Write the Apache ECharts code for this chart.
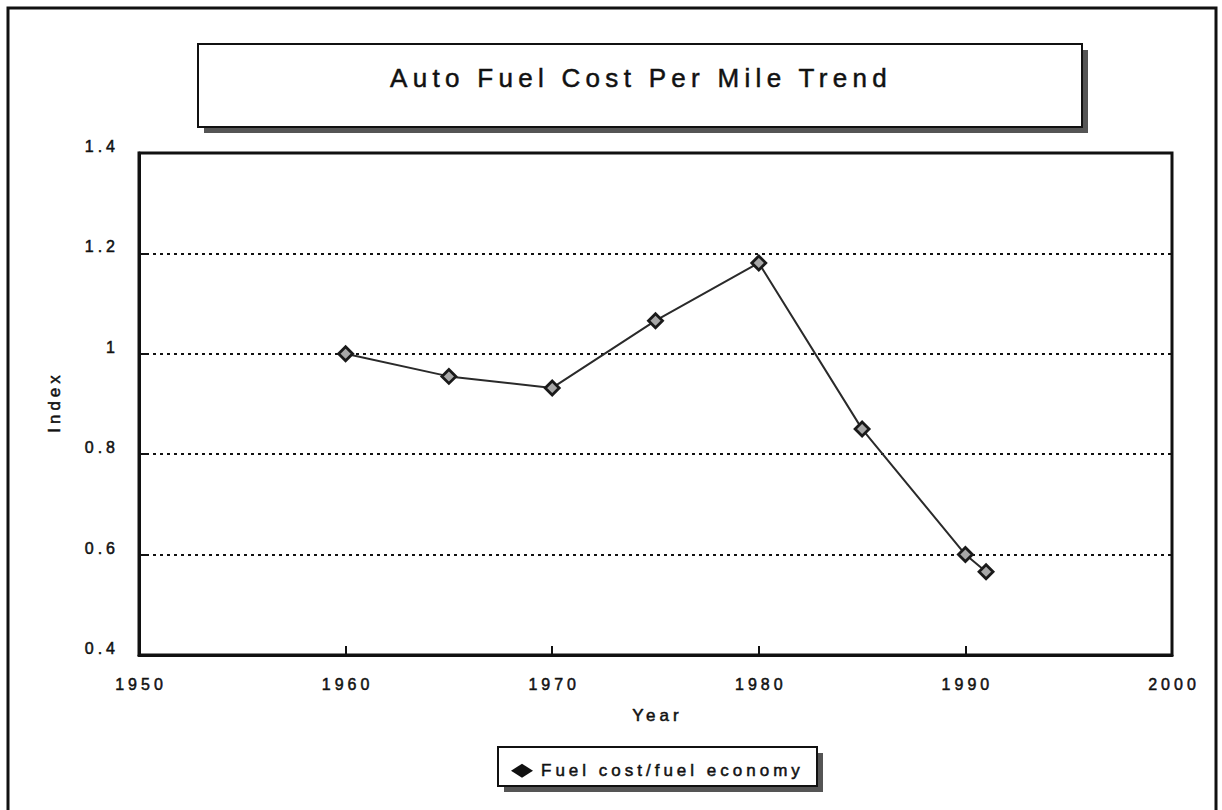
<!DOCTYPE html>
<html>
<head>
<meta charset="utf-8">
<script src="https://cdn.jsdelivr.net/npm/echarts@6/dist/echarts.min.js"></script>
<style>
  html, body { margin: 0; padding: 0; background: #fff; }
  #chart { width: 1222px; height: 810px; }
  /* wide tracking of the old typeset look */
  #chart text { letter-spacing: 4px; }
  #chart text[style*="26px"], #chart text[font-size="26px"] { letter-spacing: 5.3px; }
</style>
</head>
<body>
<div id="chart"></div>
<script>
// Fuel cost per mile, indexed to 1960 = 1
const years = [1960, 1965, 1970, 1975, 1980, 1985, 1990, 1991];
const indexValues = [1.0, 0.955, 0.932, 1.066, 1.181, 0.85, 0.6, 0.566];
const seriesName = 'Fuel cost/fuel economy';
const chartTitle = 'Auto Fuel Cost Per Mile Trend';

const FONT = '"Liberation Sans", Arial, Helvetica, sans-serif';
const INK = '#111';
const points = years.map((y, i) => [y, indexValues[i]]);

// slightly heavier strokes for all text
const heavy = { textBorderColor: INK, textBorderWidth: 0.5 };

const chart = echarts.init(document.getElementById('chart'), null, { renderer: 'svg' });

chart.setOption({
  backgroundColor: '#ffffff',
  animation: false,
  title: {
    text: chartTitle,
    left: 385,
    top: 60,
    textStyle: Object.assign({ fontFamily: FONT, fontSize: 26, fontWeight: 'normal', color: INK }, heavy)
  },
  graphic: [
    // outer frame
    { type: 'rect', z: 0, shape: { x: 8, y: 8, width: 1208, height: 830 },
      style: { fill: 'none', stroke: INK, lineWidth: 3 } },
    // title box with drop shadow
    { type: 'rect', z: 0, shape: { x: 204, y: 50, width: 884, height: 83 },
      style: { fill: '#555' } },
    { type: 'rect', z: 1, shape: { x: 198, y: 44, width: 884, height: 83 },
      style: { fill: '#fff', stroke: INK, lineWidth: 2 } },
    // legend box with drop shadow
    { type: 'rect', z: 0, shape: { x: 504, y: 753, width: 319, height: 39 },
      style: { fill: '#555' } },
    { type: 'rect', z: 1, shape: { x: 498, y: 747, width: 319, height: 39 },
      style: { fill: '#fff', stroke: INK, lineWidth: 2 } }
  ],
  legend: {
    left: 506,
    top: 757,
    icon: 'diamond',
    itemWidth: 22,
    itemHeight: 14,
    itemGap: 4,
    data: [{ name: seriesName, itemStyle: { color: INK, borderWidth: 0 } }],
    textStyle: Object.assign({ fontFamily: FONT, fontSize: 17, color: INK, padding: [0, 0, 0, 3] }, heavy)
  },
  grid: {
    left: 139, right: 50, top: 153, bottom: 155,
    show: true, borderColor: INK, borderWidth: 3, backgroundColor: 'transparent'
  },
  xAxis: {
    type: 'value',
    min: 1950, max: 2000, interval: 10,
    name: 'Year',
    nameLocation: 'middle',
    nameGap: 52,
    nameTextStyle: Object.assign({ fontFamily: FONT, fontSize: 17, color: INK, padding: [0, 0, 0, 4] }, heavy),
    axisLine: { show: true, lineStyle: { color: INK, width: 3 } },
    axisTick: { show: true, inside: true, length: 9, lineStyle: { color: INK, width: 2 } },
    axisLabel: Object.assign({ fontFamily: FONT, fontSize: 16, color: INK, margin: 21, padding: [0, 0, 0, 4],
      formatter: v => String(v) }, heavy),
    splitLine: { show: false }
  },
  yAxis: {
    type: 'value',
    min: 0.4, max: 1.4, interval: 0.2,
    name: 'Index',
    nameLocation: 'middle',
    nameGap: 76,
    nameRotate: 90,
    nameTextStyle: Object.assign({ fontFamily: FONT, fontSize: 17, color: INK, padding: [0, 0, 0, 4] }, heavy),
    axisLine: { show: true, lineStyle: { color: INK, width: 3 } },
    axisTick: { show: true, inside: true, length: 10, lineStyle: { color: INK, width: 2 } },
    axisLabel: Object.assign({ fontFamily: FONT, fontSize: 16, color: INK, margin: 20,
      verticalAlign: 'bottom', lineHeight: 13,
      formatter: v => String(+v.toFixed(1)) }, heavy),
    splitLine: { show: true, lineStyle: { color: INK, width: 2, type: [3, 4] } }
  },
  series: [{
    name: seriesName,
    type: 'line',
    data: points,
    symbol: 'diamond',
    symbolSize: 14,
    lineStyle: { color: '#2a2a2a', width: 2 },
    itemStyle: { color: '#a8a8a8', borderColor: '#1a1a1a', borderWidth: 2.8 },
    z: 3
  }]
});
</script>
</body>
</html>
